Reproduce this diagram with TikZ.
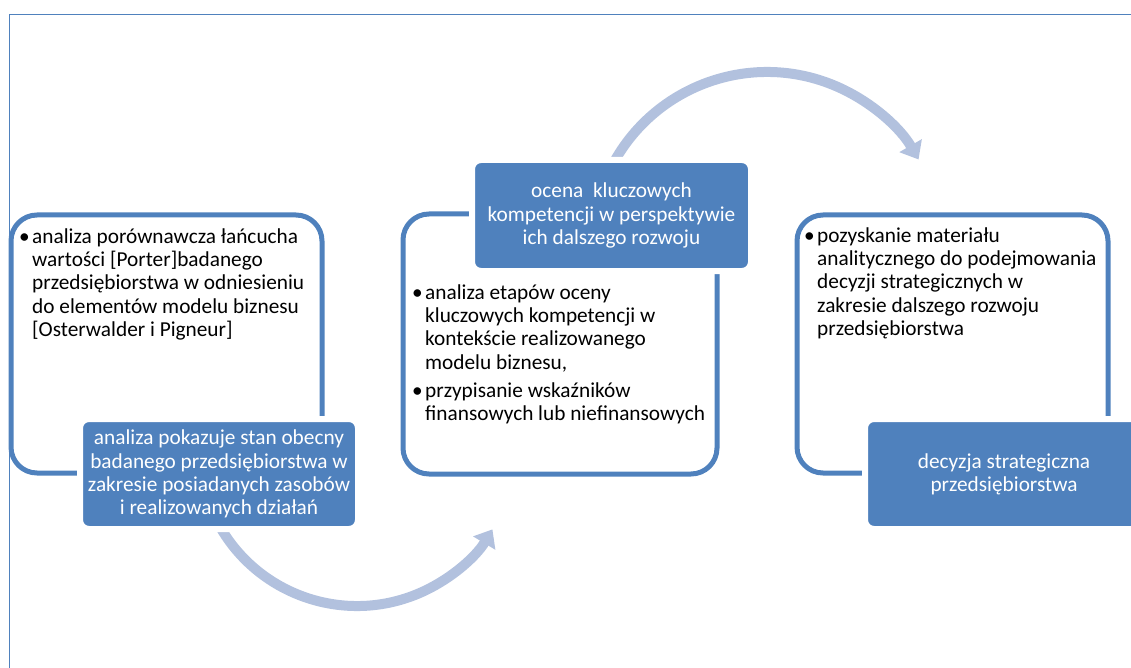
\documentclass[tikz,border=0pt]{standalone}
\usepackage{fontspec}
\setmainfont{Carlito}
\usetikzlibrary{arrows.meta}
\definecolor{accent}{RGB}{79,129,189}
\definecolor{arrowc}{RGB}{178,193,222}
\begin{document}
\begin{tikzpicture}[x=1pt,y=-1pt,
  txt/.style={font=\fontsize{21.3}{23.3}\selectfont},
  outline/.style={draw=accent, line width=5pt, rounded corners=26pt, inner sep=0pt},
  fbox/.style={txt, fill=accent, draw=white, line width=6pt, rounded corners=9pt,
    text=white, align=center, inner sep=0pt},
  bullets/.style={txt, anchor=north west, inner sep=0pt, align=left},
  cycarrow/.style={draw=arrowc, line width=10pt, -{Triangle[width=25pt,length=16pt]}}
]
\useasboundingbox (0,0) rectangle (1131,668);
\clip (0,0) rectangle (1131,668);
% frame
\draw[accent, line width=1.2pt] (1131,14.5) -- (9.5,14.5) -- (9.5,668);
% outline boxes
\node[outline, minimum width=311pt, minimum height=258pt] (ob1) at (166.5,344) {};
\node[outline, minimum width=314pt, minimum height=260pt] (ob2) at (560,344) {};
\node[outline, minimum width=311pt, minimum height=258pt] (ob3) at (952.5,344) {};
% curved arrows
\coordinate (c1) at (357,448);
\coordinate (c2) at (767,247);
\draw[cycarrow] ([shift={(155:158)}]c1) arc[start angle=155, end angle=31, radius=158];
\draw[cycarrow] ([shift={(205:175)}]c2) arc[start angle=205, end angle=330, radius=175];
% filled boxes
\node[fbox, minimum width=278pt, minimum height=110pt] (fb1) at (219,474)
  {analiza pokazuje stan obecny\\badanego przedsiębiorstwa w\\zakresie posiadanych zasobów\\i realizowanych działań};
\node[fbox, minimum width=279pt, minimum height=111pt] (fb2) at (611.5,215.5)
  {ocena\ \ kluczowych\\kompetencji w perspektywie\\ich dalszego rozwoju};
\node[fbox, minimum width=278pt, minimum height=110pt] (fb3) at (1004,474)
  {decyzja strategiczna\\przedsiębiorstwa};
% bullet texts
\node[bullets] (t1) at (32,228)
  {\rule{0pt}{15pt}\llap{•\hspace{2.5pt}}analiza porównawcza łańcucha\\wartości [Porter]badanego\\przedsiębiorstwa w odniesieniu\\do elementów modelu biznesu\\{[Osterwalder i Pigneur]}};
\node[bullets] (t2) at (425,284)
  {\rule{0pt}{15pt}\llap{•\hspace{2.5pt}}analiza etapów oceny\\kluczowych kompetencji w\\kontekście realizowanego\\modelu biznesu,\\[4.7pt]\llap{•\hspace{2.5pt}}przypisanie wskaźników\\finansowych lub niefinansowych};
\node[bullets] (t3) at (817,227)
  {\rule{0pt}{15pt}\llap{•\hspace{2.5pt}}pozyskanie materiału\\analitycznego do podejmowania\\decyzji strategicznych w\\zakresie dalszego rozwoju\\przedsiębiorstwa};
\end{tikzpicture}
\end{document}
